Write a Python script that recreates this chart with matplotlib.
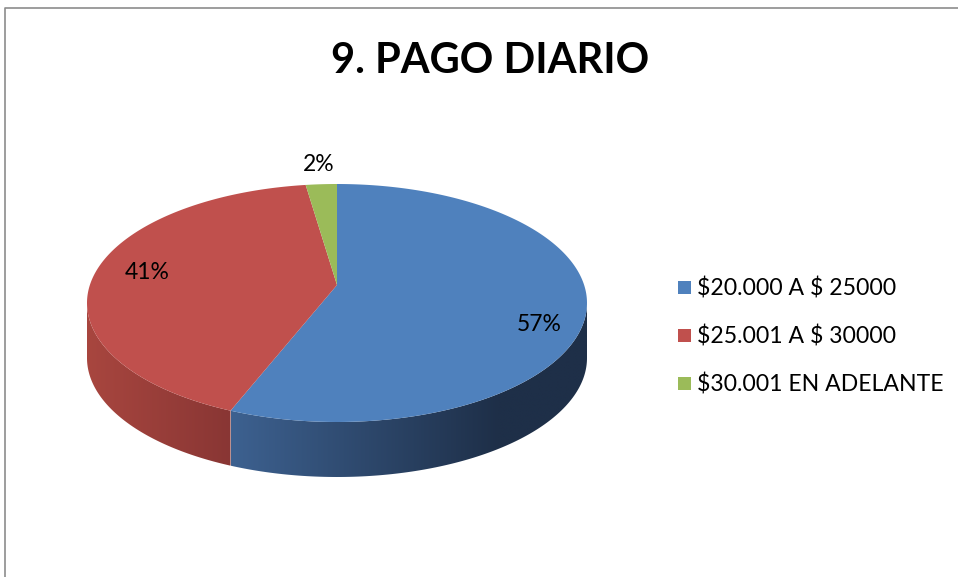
import numpy as np
import matplotlib
matplotlib.use("Agg")
import matplotlib.pyplot as plt
from matplotlib.patches import Polygon, Rectangle
from matplotlib.colors import LinearSegmentedColormap

plt.rcParams['font.family'] = ['Lato', 'DejaVu Sans']
plt.rcParams['text.parse_math'] = False

labels = ["$20.000 A $ 25000", "$25.001 A $ 30000", "$30.001 EN ADELANTE"]
values = [57, 41, 2]
top_colors = ["#4F81BD", "#C0504D", "#9BBB59"]
side_colors = [("#3D6190", "#1E2F48"), ("#A8463F", "#893634"), ("#7A9446", "#5E7335")]

# pie geometry in pixel units
cx, cy = 337, 303
rx, ry = 250, 119
depth = 55
vx, vy = 337, 285   # apparent apex (perspective)


def rim(t, dy=0):
    t = np.radians(t)
    return cx + rx * np.sin(t), cy - ry * np.cos(t) + dy


fig = plt.figure(figsize=(9.58, 5.77), dpi=100)
ax = fig.add_axes([0, 0, 1, 1])
ax.set_xlim(0, 958)
ax.set_ylim(577, 0)
ax.axis("off")

# chart frame (cropped)
ax.plot([5.5, 5.5, 960], [580, 7.5, 7.5], color="#8c8c8c", lw=1.2)

total = sum(values)
bounds = np.concatenate([[0], np.cumsum(values) / total * 360])

# side walls (front half only: 90..270 deg clockwise from top)
for i in range(len(values)):
    t1, t2 = max(bounds[i], 90), min(bounds[i + 1], 270)
    if t2 <= t1:
        continue
    ts = np.linspace(t1, t2, 120)
    xs, ys = rim(ts)
    xb, yb = rim(ts[::-1], depth)
    poly = Polygon(np.column_stack([np.r_[xs, xb], np.r_[ys, yb]]), closed=True,
                   facecolor="none", edgecolor="none")
    ax.add_patch(poly)
    cmap = LinearSegmentedColormap.from_list("s%d" % i, side_colors[i])
    x0, x1 = xs.min(), xs.max()
    if i == 0:
        grad = np.clip(np.linspace(0, 1.33, 256), 0, 1).reshape(1, -1)
    else:
        grad = np.linspace(0, 1, 256).reshape(1, -1)
    im = ax.imshow(grad, cmap=cmap, extent=[x0, x1, ys.max() + depth + 5, ys.min() - 5],
                   aspect="auto", interpolation="bilinear", zorder=1)
    im.set_clip_path(poly)

# top faces
for i in range(len(values)):
    ts = np.linspace(bounds[i], bounds[i + 1], 200)
    xs, ys = rim(ts)
    pts = np.column_stack([np.r_[vx, xs], np.r_[vy, ys]])
    ax.add_patch(Polygon(pts, closed=True, facecolor=top_colors[i],
                         edgecolor="none", zorder=2))

# data labels
label_r = [0.83, 0.77, 1.18]
label_dy = [0, -16, 2]
for i, v in enumerate(values):
    mid = (bounds[i] + bounds[i + 1]) / 2
    t = np.radians(mid)
    x = cx + label_r[i] * rx * np.sin(t)
    y = cy - label_r[i] * ry * np.cos(t) + label_dy[i]
    ax.text(x, y, "%d%%" % v, fontsize=16.5, ha="center", va="center", zorder=3)

# title
ax.text(490, 61, "9. PAGO DIARIO", fontsize=30, fontweight="bold",
        ha="center", va="center")

# legend
for i, lab in enumerate(labels):
    y = 288 + 48 * i
    ax.add_patch(Rectangle((678, y - 7), 13, 13, facecolor=top_colors[i], edgecolor="none"))
    ax.text(697, y, lab, fontsize=16.6, ha="left", va="center")

fig.savefig("out.png", dpi=100)
